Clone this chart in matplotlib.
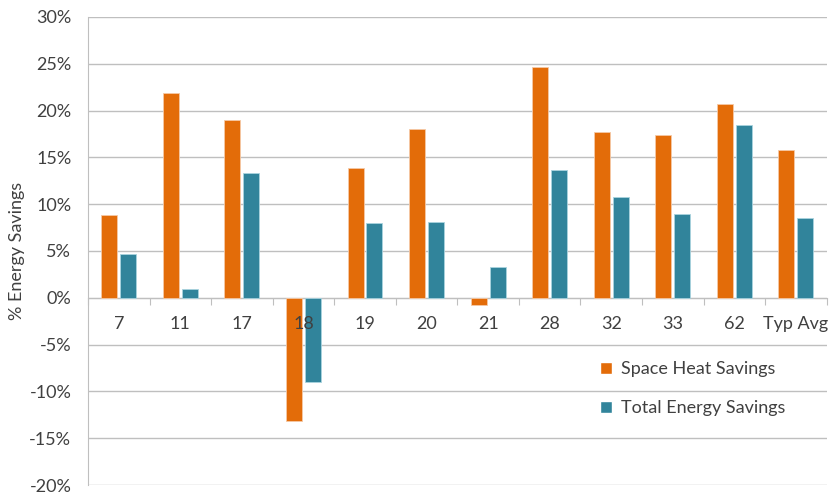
import numpy as np
import matplotlib.pyplot as plt
from matplotlib.lines import Line2D
from matplotlib.ticker import FuncFormatter

plt.rcParams['font.family'] = ['Lato', 'DejaVu Sans']

sites = ['7', '11', '17', '18', '19', '20', '21', '28', '32', '33', '62', 'Typ Avg']
space_heat = [8.8, 21.9, 19.0, -13.2, 13.9, 18.0, -0.8, 24.7, 17.7, 17.4, 20.7, 15.8]
total_energy = [4.7, 0.9, 13.3, -9.0, 8.0, 8.1, 3.3, 13.7, 10.8, 9.0, 18.5, 8.5]

orange = '#E36C09'
teal = '#31849B'
text_col = '#404040'
grid_col = '#BFBFBF'
fs = 13

x = np.arange(len(sites))
w = 0.26

fig = plt.figure(figsize=(8.3, 4.97), dpi=100)
ax = fig.add_axes([0.106, 0.024, 0.89, 0.942])

ax.bar(x - 0.153, space_heat, w, color=orange, edgecolor='#F5C9A6', linewidth=0.6,
       label='Space Heat Savings', zorder=3)
ax.bar(x + 0.153, total_energy, w, color=teal, edgecolor='#A9D3DF', linewidth=0.6,
       label='Total Energy Savings', zorder=3)

ax.set_xlim(-0.5, len(sites) - 0.5)
ax.set_ylim(-20, 30)
ax.set_yticks(np.arange(-20, 31, 5))
ax.yaxis.set_major_formatter(FuncFormatter(lambda v, p: f'{v:.0f}%'))
ax.yaxis.grid(True, color=grid_col, linewidth=1.0, zorder=0)
ax.tick_params(axis='y', length=0, labelsize=fs, labelcolor=text_col, pad=12)

# x axis sits on the zero line, ticks between groups
ax.spines['bottom'].set_position(('data', 0))
ax.spines['bottom'].set_color(grid_col)
ax.spines['left'].set_color(grid_col)
ax.spines['top'].set_visible(False)
ax.spines['right'].set_visible(False)
ax.set_xticks(np.arange(-0.5, len(sites), 1))
ax.set_xticklabels([])
ax.tick_params(axis='x', length=5, color=grid_col)

# category labels drawn over the bars (18 overlaps its negative bars)
for xi, s in zip(x, sites):
    ax.annotate(s, xy=(xi, 0), xycoords='data', xytext=(0, -19),
                textcoords='offset points', ha='center', va='center',
                fontsize=fs, color=text_col, zorder=10)

ax.set_ylabel('% Energy Savings', fontsize=fs, color=text_col, labelpad=3)

handles = [Line2D([], [], marker='s', linestyle='none', markersize=9,
                  markerfacecolor=orange, markeredgecolor='white'),
           Line2D([], [], marker='s', linestyle='none', markersize=9,
                  markerfacecolor=teal, markeredgecolor='white')]
leg = ax.legend(handles, ['Space Heat Savings', 'Total Energy Savings'],
                loc='upper left', bbox_to_anchor=(0.67, 0.30), frameon=False,
                fontsize=fs, handlelength=0.8, handletextpad=0.4,
                labelspacing=1.3, labelcolor=text_col)

plt.savefig('out.png', dpi=100)
